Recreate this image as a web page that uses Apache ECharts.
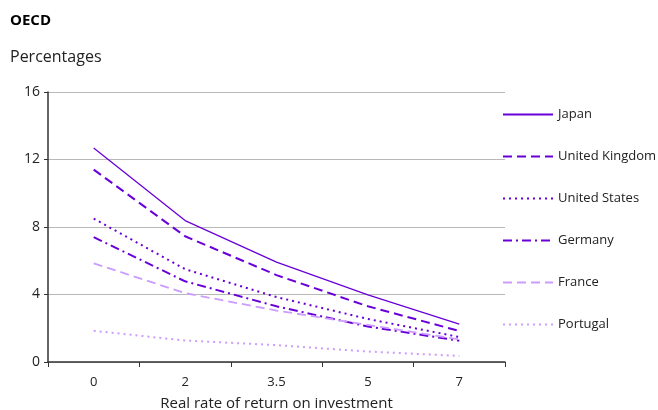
<!DOCTYPE html>
<html>
<head>
<meta charset="utf-8">
<script src="https://cdn.jsdelivr.net/npm/echarts@6/dist/echarts.min.js"></script>
<style>
  * { margin: 0; padding: 0; }
  body { background: #fff; }
  #chart { width: 658px; height: 410px; }
</style>
</head>
<body>
<div id="chart"></div>
<script>
  // rate of return categories (x axis)
  var rates = ['0', '2', '3.5', '5', '7'];
  var japan = [12.68, 8.38, 5.92, 3.98, 2.24];
  var unitedKingdom = [11.4, 7.45, 5.15, 3.3, 1.84];
  var unitedStates = [8.5, 5.5, 3.85, 2.55, 1.48];
  var germany = [7.4, 4.78, 3.3, 2.1, 1.26];
  var france = [5.85, 4.08, 3.05, 2.2, 1.34];
  var portugal = [1.85, 1.27, 1.0, 0.62, 0.36];
  var yTicks = [0, 4, 8, 12, 16];

  var dark = '#6a00d8';
  var light = '#cc9cff';

  function line(name, data, color, width, dash) {
    return {
      name: name,
      type: 'line',
      data: data,
      symbol: 'none',
      lineStyle: { color: color, width: width, type: dash },
      itemStyle: { color: color }
    };
  }

  var chart = echarts.init(document.getElementById('chart'));
  chart.setOption({
    animation: false,
    textStyle: { fontFamily: '"Open Sans", "DejaVu Sans", sans-serif' },
    title: [
      { text: 'OECD', left: 10, top: 13, padding: 0, textStyle: { fontSize: 15, fontWeight: 'bold', color: '#000' } },
      { text: 'Percentages', left: 10, top: 49, padding: 0, textStyle: { fontSize: 16, fontWeight: 'normal', color: '#222' } }
    ],
    grid: { left: 48, right: 153, top: 92, bottom: 48, outerBoundsMode: 'none' },
    legend: {
      orient: 'vertical',
      left: 502,
      top: 108,
      padding: 0,
      itemWidth: 50,
      itemHeight: 12,
      itemGap: 29,
      itemStyle: { opacity: 0 },
      textStyle: { fontSize: 13, color: '#222' },
      data: ['Japan', 'United Kingdom', 'United States', 'Germany', 'France', 'Portugal']
    },
    xAxis: {
      type: 'category',
      data: rates,
      boundaryGap: true,
      name: 'Real rate of return on investment',
      nameLocation: 'middle',
      nameGap: 34,
      nameTextStyle: { fontSize: 15, color: '#222' },
      axisLine: { lineStyle: { color: '#333', width: 1.5 } },
      axisTick: { show: true, length: 5, lineStyle: { color: '#333' } },
      axisLabel: { fontSize: 13, color: '#222', margin: 14 },
      splitLine: { show: false }
    },
    yAxis: {
      type: 'value',
      min: yTicks[0],
      max: yTicks[yTicks.length - 1],
      interval: 4,
      axisLine: { show: true, lineStyle: { color: '#333', width: 1.5 } },
      axisTick: { show: true, length: 4, lineStyle: { color: '#333' } },
      axisLabel: { fontSize: 14, color: '#222', margin: 8 },
      splitLine: { lineStyle: { color: '#b8b8b8', width: 1 } }
    },
    series: [
      line('Japan', japan, dark, 1.3, 'solid'),
      line('United Kingdom', unitedKingdom, dark, 2, [9, 5]),
      line('United States', unitedStates, dark, 2, [2, 4]),
      line('Germany', germany, dark, 2, [9, 4, 2, 4]),
      line('France', france, light, 1.8, [9, 5]),
      line('Portugal', portugal, light, 2, [2, 4])
    ]
  });
</script>
</body>
</html>
